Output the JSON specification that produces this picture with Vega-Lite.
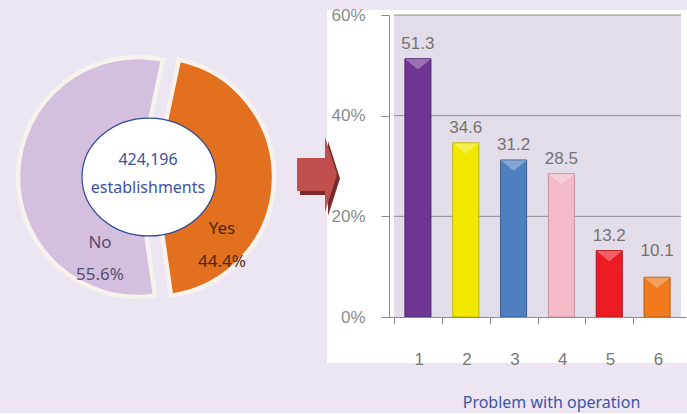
{
  "$schema": "https://vega.github.io/schema/vega-lite/v6.json",
  "background": "#ede5f1",
  "padding": {"left": 0, "top": 6, "right": 0, "bottom": 3},
  "bounds": "flush",
  "spacing": 35,
  "config": {"view": {"stroke": null}},
  "hconcat": [
    {
      "width": 292,
      "height": 334,
      "data": {"values": [{"answer": "Yes", "pct": 44.4}, {"answer": "No", "pct": 55.6}]},
      "transform": [
        {"stack": "pct", "groupby": [], "sort": [{"field": "answer", "order": "descending"}], "as": ["s0", "s1"]}
      ],
      "layer": [
        {
          "transform": [{"filter": "datum.answer === 'No'"}],
          "mark": {"type": "arc", "outerRadius": 120, "xOffset": -8, "fill": "#d4bfdf", "stroke": "#f7f3ec", "strokeWidth": 4.5},
          "encoding": {
            "theta": {"field": "s0", "type": "quantitative", "scale": {"domain": [0, 100], "range": [0.2094, 6.4926]}},
            "theta2": {"field": "s1"}
          }
        },
        {
          "transform": [{"filter": "datum.answer === 'Yes'"}],
          "mark": {"type": "arc", "outerRadius": 120, "xOffset": 8, "fill": "#e2701f", "stroke": "#f7f3ec", "strokeWidth": 4.5},
          "encoding": {
            "theta": {"field": "s0", "type": "quantitative"},
            "theta2": {"field": "s1"}
          }
        },
        {
          "transform": [
            {"filter": "datum.answer === 'No'"},
            {"calculate": "[datum.answer, format(datum.pct, '.1f') + '%']", "as": "lines"}
          ],
          "mark": {"type": "text", "dx": -46, "dy": 66, "font": "Noto Sans", "fontSize": 17, "lineHeight": 32, "color": "#5a4c6e", "align": "center", "baseline": "middle"},
          "encoding": {"text": {"field": "lines", "type": "nominal"}}
        },
        {
          "transform": [
            {"filter": "datum.answer === 'Yes'"},
            {"calculate": "[datum.answer, format(datum.pct, '.1f') + '%']", "as": "lines"}
          ],
          "mark": {"type": "text", "dx": 76, "dy": 52, "font": "Noto Sans", "fontSize": 17, "lineHeight": 33, "color": "#4a2a0f", "align": "center", "baseline": "middle"},
          "encoding": {"text": {"field": "lines", "type": "nominal"}}
        },
        {
          "data": {"values": [{"total": 424196}]},
          "mark": {"type": "point", "shape": "M -1 0 A 1 0.88 0 1 1 1 0 A 1 0.88 0 1 1 -1 0 Z", "size": 17956, "filled": true, "fill": "white", "stroke": "#2d4a9b", "strokeWidth": 1.2, "opacity": 1, "xOffset": 3},
          "encoding": {}
        },
        {
          "data": {"values": [{"total": 424196}]},
          "transform": [{"calculate": "[format(datum.total, ','), 'establishments']", "as": "lines"}],
          "mark": {"type": "text", "xOffset": 2, "yOffset": -17, "font": "Noto Sans", "fontSize": 16, "lineHeight": 28, "color": "#3d52a3", "align": "center", "baseline": "middle"},
          "encoding": {"text": {"field": "lines", "type": "nominal"}}
        }
      ]
    },
    {
      "width": 360,
      "height": 353,
      "view": {"fill": "white", "stroke": null},
      "data": {"values": [
        {"item": 1, "pct": 51.3, "label": 51.3},
        {"item": 2, "pct": 34.6, "label": 34.6},
        {"item": 3, "pct": 31.2, "label": 31.2},
        {"item": 4, "pct": 28.5, "label": 28.5},
        {"item": 5, "pct": 13.2, "label": 13.2},
        {"item": 6, "pct": 7.9, "label": 10.1}
      ]},
      "layer": [
        {
          "data": {"values": [{"area": "plot"}]},
          "mark": {"type": "rect", "fill": "#e3dde9"},
          "encoding": {
            "x": {"datum": 0.5, "type": "quantitative"},
            "x2": {"datum": 6.5},
            "y": {"datum": 0, "type": "quantitative"},
            "y2": {"datum": 60}
          }
        },
        {
          "data": {"values": [{"v": 20}, {"v": 40}, {"v": 60}]},
          "mark": {"type": "rule", "color": "#8c8c8c", "strokeWidth": 1},
          "encoding": {
            "y": {"field": "v", "type": "quantitative"},
            "x": {"datum": 0.5, "type": "quantitative"},
            "x2": {"datum": 6.5}
          }
        },
        {
          "mark": {"type": "bar", "width": 26, "strokeWidth": 1},
          "encoding": {
            "x": {
              "field": "item", "type": "quantitative",
              "scale": {"domain": [0.5, 6.5], "range": [62, 359], "nice": false, "zero": false},
              "axis": {
                "values": [0.5, 1.5, 2.5, 3.5, 4.5, 5.5],
                "labelExpr": "format(datum.value + 0.5, 'd')",
                "labelOffset": 24.75, "labelFlush": false, "labelOverlap": false,
                "tickSize": 7, "tickColor": "#8c8c8c", "domainColor": "#8c8c8c",
                "labelPadding": 27, "labelFont": "Liberation Sans", "labelFontSize": 17, "labelColor": "#777777",
                "offset": -46, "grid": false, "zindex": 1,
                "title": "Problem with operation", "titleFont": "Noto Sans", "titleFontSize": 16, "titleFontWeight": "normal",
                "titleColor": "#3a55a8", "titleX": 224, "titleY": 90, "titleBaseline": "alphabetic", "titleAlign": "center"
              }
            },
            "y": {
              "field": "pct", "type": "quantitative",
              "scale": {"domain": [0, 60], "range": [307, 5], "nice": false},
              "axis": {
                "values": [0, 20, 40, 60],
                "labelExpr": "datum.value + '%'",
                "tickSize": 8, "tickColor": "#8c8c8c", "domainColor": "#8c8c8c",
                "labelPadding": 16, "labelFont": "Liberation Sans", "labelFontSize": 17, "labelColor": "#8a8a8a",
                "offset": -62, "grid": false, "zindex": 1, "title": null
              }
            },
            "y2": {"datum": 0},
            "color": {"field": "item", "type": "nominal", "scale": {"range": ["#6f3593", "#f3e800", "#4e80c0", "#f5bac8", "#ed1c24", "#f07a1c"]}, "legend": null},
            "stroke": {"field": "item", "type": "nominal", "scale": {"range": ["#4f2270", "#bfb400", "#3a5f96", "#c9909e", "#a8141a", "#b5560f"]}, "legend": null}
          }
        },
        {
          "mark": {"type": "point", "shape": "M -1 -0.4 L 1 -0.4 L 0 0.4 Z", "size": 676, "filled": true, "fill": "white", "opacity": 0.3, "strokeWidth": 0, "yOffset": 5.5},
          "encoding": {
            "x": {"field": "item", "type": "quantitative"},
            "y": {"field": "pct", "type": "quantitative"}
          }
        },
        {
          "mark": {"type": "text", "baseline": "bottom", "dy": -6, "font": "Liberation Sans", "fontSize": 17, "color": "#737373"},
          "encoding": {
            "x": {"field": "item", "type": "quantitative"},
            "y": {"field": "label", "type": "quantitative"},
            "text": {"field": "label", "type": "quantitative", "format": ".1f"}
          }
        },
        {
          "data": {"values": [{"shape": "arrow"}]},
          "mark": {"type": "point", "shape": "M -0.533 -0.44 L 0.213 -0.44 L 0.213 -1 L 0.533 0 L 0.213 1 L 0.213 0.44 L -0.533 0.44 Z", "size": 5625, "filled": true, "fill": "#7b2a2a", "opacity": 1, "strokeWidth": 0, "xOffset": -187, "yOffset": -8},
          "encoding": {}
        },
        {
          "data": {"values": [{"shape": "arrow"}]},
          "mark": {"type": "point", "shape": "M -0.533 -0.44 L 0.213 -0.44 L 0.213 -1 L 0.533 0 L 0.213 1 L 0.213 0.44 L -0.533 0.44 Z", "size": 5625, "filled": true, "fill": "#c0504d", "opacity": 1, "strokeWidth": 0, "xOffset": -190, "yOffset": -12},
          "encoding": {}
        }
      ]
    }
  ]
}
